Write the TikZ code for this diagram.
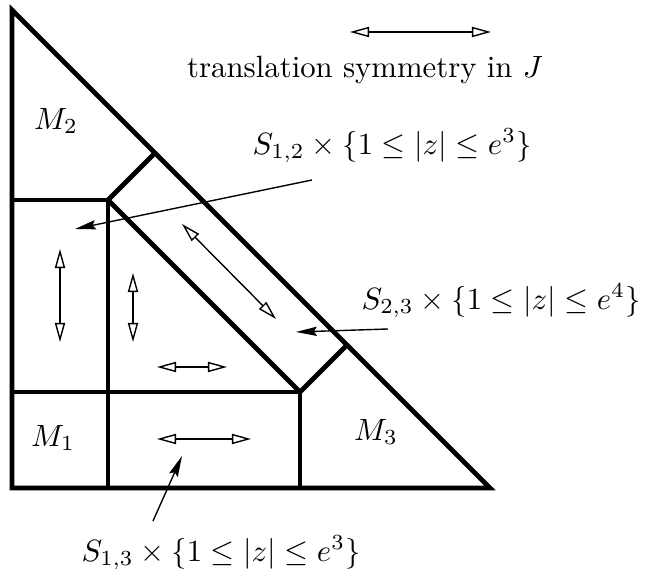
\documentclass[tikz,border=0pt]{standalone}
\usetikzlibrary{arrows.meta}
\begin{document}
\begin{tikzpicture}[x=0.325pt,y=-0.325pt,
  wall/.style={line width=1.6pt,line join=miter},
  sym/.style={line width=0.45pt,{Triangle[open,length=6.2pt,width=3.3pt]}-{Triangle[open,length=6.2pt,width=3.3pt]}},
  pointer/.style={line width=0.45pt,-{Stealth[length=6.8pt,width=3pt,inset=1pt]}},
  lab/.style={inner sep=0pt}]
\useasboundingbox (0,0) rectangle (645,577);
% geometry
\coordinate (A) at (12,10);
\coordinate (B) at (12,488);
\coordinate (C) at (490,488);
\coordinate (P) at (108,200);
\coordinate (Q) at (300,392);
\coordinate (PL) at (12,200);
\coordinate (PB) at (108,488);
\coordinate (QL) at (12,392);
\coordinate (QB) at (300,488);
\coordinate (PH) at (155,153);
\coordinate (QH) at (347,345);
\draw[wall] (A) -- (B) -- (C) -- cycle;
\draw[wall] (PL) -- (P) -- (PB);
\draw[wall] (QL) -- (Q) -- (QB);
\draw[wall] (PH) -- (P) -- (Q) -- (QH);
% labels
\node[lab] (m2) at (56,121) {$M_2$};
\node[lab] (m1) at (53,438) {$M_1$};
\node[lab] (m3) at (376,432) {$M_3$};
\node[lab] (tr) at (365,70) {translation symmetry in $J$};
\node[lab] (s12) at (392,146) {$S_{1,2}\times\{1\le|z|\le e^3\}$};
\node[lab] (s23) at (501,301) {$S_{2,3}\times\{1\le|z|\le e^4\}$};
\node[lab] (s13) at (221,553) {$S_{1,3}\times\{1\le|z|\le e^3\}$};
% symmetry arrows
\coordinate (t1) at (350,32); \coordinate (t2) at (491,32);
\coordinate (v1a) at (60,249); \coordinate (v1b) at (60,342);
\coordinate (v2a) at (133,273); \coordinate (v2b) at (133,342);
\coordinate (h1a) at (157,367); \coordinate (h1b) at (227,367);
\coordinate (h2a) at (157,439); \coordinate (h2b) at (251,439);
\coordinate (d1) at (182,224); \coordinate (d2) at (276,319);
\draw[sym] (t1) -- (t2);
\draw[sym] (v1a) -- (v1b);
\draw[sym] (v2a) -- (v2b);
\draw[sym] (h1a) -- (h1b);
\draw[sym] (h2a) -- (h2b);
\draw[sym] (d1) -- (d2);
% pointers
\coordinate (p12s) at (312,180); \coordinate (p12e) at (75,229);
\coordinate (p23s) at (388,329); \coordinate (p23e) at (296,332);
\coordinate (p13s) at (153,521); \coordinate (p13e) at (182,456);
\draw[pointer] (p12s) -- (p12e);
\draw[pointer] (p23s) -- (p23e);
\draw[pointer] (p13s) -- (p13e);
\end{tikzpicture}
\end{document}
